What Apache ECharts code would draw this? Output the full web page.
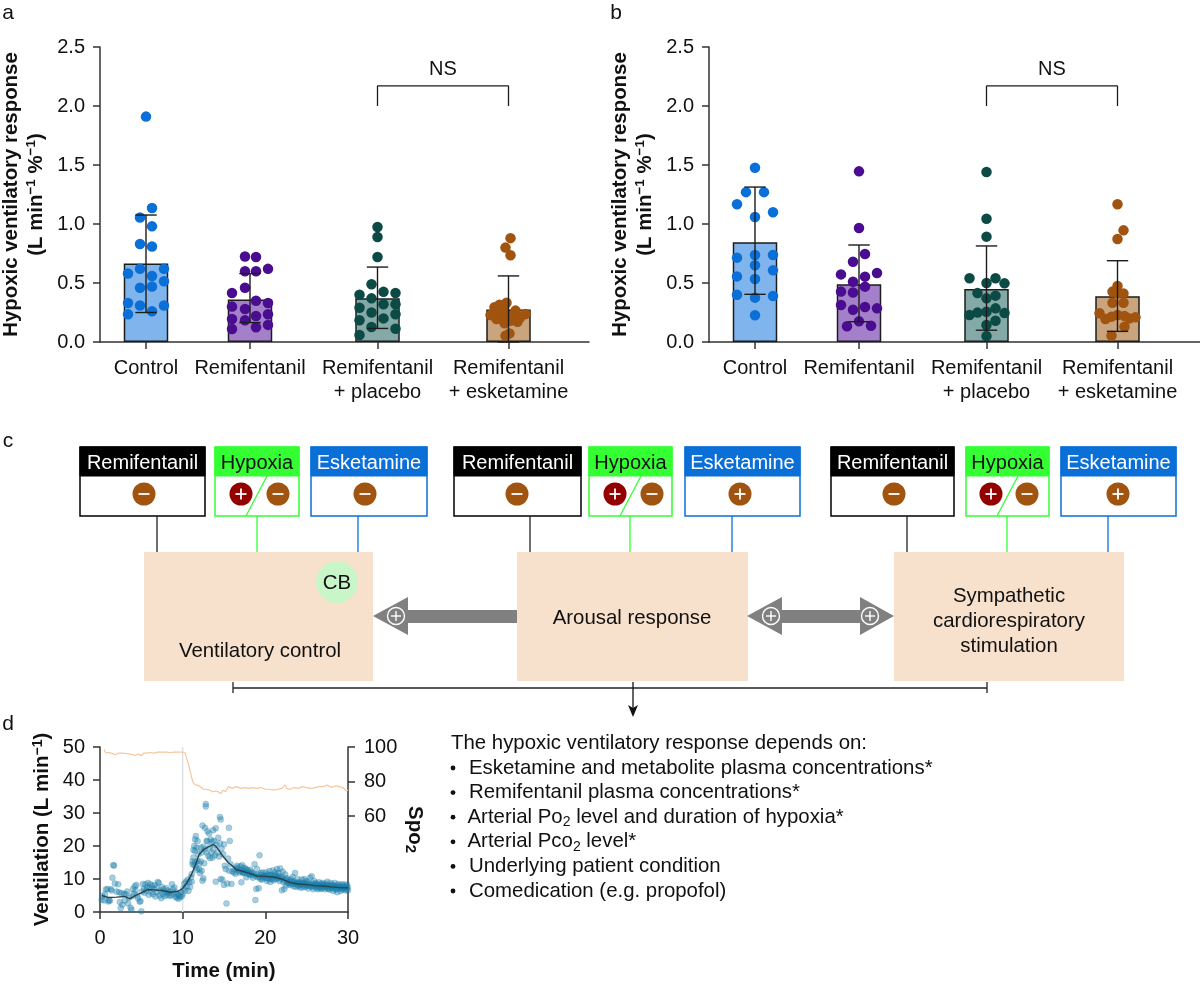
<!DOCTYPE html>
<html><head><meta charset="utf-8">
<style>html,body{margin:0;padding:0;background:#fff}#c{width:1200px;height:984px}</style>
<script src="https://cdn.jsdelivr.net/npm/echarts@6/dist/echarts.min.js"></script>
</head><body><div id="c"></div>
<script>
const FONT = '"Liberation Sans", Arial, sans-serif';
const categories = ['Control', 'Remifentanil', 'Remifentanil\n+ placebo', 'Remifentanil\n+ esketamine'];
const categoryPositions = [46, 150, 277.5, 408.5];
const dotColors = ['#0b6fd8', '#4a0d8f', '#0c4a45', '#a0540f'];
const barColors = ['#7fb5ec', '#a47fca', '#85a9a6', '#c9a47c'];

const meansA = [0.665, 0.36, 0.37, 0.275];
const upperA = [1.076, 0.58, 0.635, 0.56];
const lowerA = [0.25, 0.165, 0.115, 0.0];
const meansB = [0.845, 0.49, 0.45, 0.387];
const upperB = [1.313, 0.822, 0.814, 0.689];
const lowerB = [0.404, 0.172, 0.10, 0.09];

// each point: [horizontal jitter in axis units, response]
const controlA = [[0,1.91],[6,1.135],[-6,1.055],[6,0.98],[-6,0.83],[6,0.81],[-6,0.62],[18,0.62],[-18,0.58],[6,0.56],[18,0.515],[6,0.47],[-6,0.46],[-18,0.33],[-6,0.31],[18,0.31],[6,0.26],[-18,0.235]];
const remiA = [[-5,0.725],[6,0.72],[-5,0.60],[6,0.60],[18,0.62],[-5,0.46],[-18,0.415],[6,0.35],[18,0.33],[-18,0.30],[-5,0.28],[18,0.235],[6,0.22],[-18,0.195],[-5,0.185],[18,0.145],[6,0.125],[-18,0.11]];
const placeboA = [[0,0.975],[0,0.89],[0,0.72],[-6,0.49],[6,0.425],[18,0.415],[-18,0.40],[-6,0.37],[6,0.32],[18,0.32],[-18,0.29],[-6,0.25],[18,0.235],[6,0.20],[-18,0.185],[-6,0.127],[18,0.113],[-18,0.06]];
const esketA = [[2,0.88],[-3,0.80],[2,0.735],[-2,0.333],[-9,0.316],[-14,0.294],[7,0.266],[-5,0.266],[-11,0.254],[-18,0.229],[17,0.237],[0,0.22],[-12,0.195],[-5,0.195],[5,0.215],[12,0.21],[9,0.172],[-4,0.158],[2,0.18],[1,0.073],[-3,0.054]];
const controlB = [[0,1.477],[-9,1.27],[9,1.27],[-18,1.167],[18,1.10],[0,1.06],[0,0.737],[18,0.737],[-18,0.715],[0,0.65],[18,0.607],[-18,0.556],[0,0.534],[-18,0.40],[18,0.39],[0,0.376],[0,0.226]];
const remiB = [[0,1.446],[0,0.966],[6,0.746],[-6,0.68],[18,0.585],[-18,0.573],[6,0.554],[-6,0.511],[6,0.469],[-18,0.427],[-6,0.42],[-18,0.313],[6,0.297],[18,0.285],[-6,0.274],[0,0.175],[-12,0.133],[12,0.138]];
const placeboB = [[0,1.44],[0,1.045],[0,0.893],[-17,0.54],[9,0.54],[0,0.5],[18,0.497],[-9,0.415],[9,0.393],[0,0.37],[9,0.285],[0,0.257],[-9,0.249],[18,0.246],[-17,0.229],[9,0.18],[0,0.144],[0,0.05]];
const esketB = [[0,1.167],[6,0.946],[0,0.873],[0,0.475],[-5,0.427],[6,0.412],[0,0.412],[-5,0.333],[6,0.333],[-18,0.243],[0,0.229],[-6,0.215],[7,0.22],[-12,0.195],[18,0.209],[12,0.2],[7,0.13],[-6,0.054]];

// panel d
const ventilationPoints = [[0.2,3.7],[0.3,4.8],[0.5,3.5],[0.6,5.4],[0.7,6.8],[0.9,7.0],[1.0,3.2],[1.1,3.6],[1.2,3.4],[1.3,6.9],[1.4,6.5],[1.5,10.4],[1.6,14.2],[1.7,14.1],[1.8,8.6],[2.0,6.2],[2.2,8.4],[2.3,6.0],[2.4,3.0],[2.5,1.2],[2.6,5.7],[2.7,2.2],[2.9,5.5],[3.0,3.5],[3.1,5.4],[3.3,6.2],[3.4,2.6],[3.5,4.3],[3.7,1.3],[3.8,0.7],[3.9,4.8],[4.0,7.0],[4.1,5.5],[4.2,7.8],[4.3,6.6],[4.4,8.2],[4.5,5.0],[4.6,4.2],[4.8,3.1],[4.9,3.3],[5.0,0.2],[5.1,6.2],[5.2,8.5],[5.3,7.0],[5.4,5.8],[5.5,8.3],[5.6,6.5],[5.7,7.5],[5.8,8.8],[5.9,5.2],[6.0,7.2],[6.1,8.4],[6.2,6.0],[6.3,7.9],[6.4,5.4],[6.5,7.0],[6.6,8.2],[6.7,4.7],[6.8,7.3],[6.9,6.0],[7.0,9.1],[7.1,8.8],[7.2,5.0],[7.3,6.5],[7.4,4.2],[7.5,7.6],[7.6,5.5],[7.7,6.9],[7.8,4.8],[7.9,6.0],[8.0,7.2],[8.1,5.2],[8.2,6.5],[8.3,5.8],[8.4,4.9],[8.5,6.2],[8.6,5.0],[8.7,8.4],[8.8,6.9],[8.9,5.5],[9.0,7.4],[9.1,4.6],[9.2,6.0],[9.3,4.3],[9.4,5.2],[9.5,4.0],[9.6,5.0],[9.7,4.5],[9.8,6.0],[9.9,4.8],[10,5.5],
[10.1,7.2],[10.2,8.6],[10.3,6.5],[10.4,9.2],[10.5,7.8],[10.6,9.8],[10.7,6.4],[10.8,9.0],[10.9,7.6],[11.0,10.5],[11.1,9.2],[11.1,11.5],[11.2,14.5],[11.2,15.3],[11.3,18.8],[11.3,16.5],[11.4,20.0],[11.4,14.2],[11.5,22.0],[11.5,18.5],[11.5,15.0],[11.6,23.0],[11.6,13.5],[11.7,19.5],[11.7,12.8],[11.8,21.5],[11.8,15.5],[11.9,17.5],[12.0,13.0],[12.0,14.7],[12.1,11.8],[12.2,19.5],[12.2,15.3],[12.3,18.0],[12.3,12.5],[12.4,26.2],[12.4,9.5],[12.5,19.8],[12.5,10.2],[12.6,14.8],[12.7,25.5],[12.7,19.0],[12.8,32.7],[12.8,32.0],[12.9,21.5],[12.9,18.0],[13.0,24.5],[13.0,21.5],[13.1,17.0],[13.2,23.8],[13.3,19.8],[13.3,16.3],[13.4,22.0],[13.5,18.0],[13.6,21.3],[13.6,16.5],[13.7,24.8],[13.7,19.0],[13.8,21.5],[13.9,17.2],[14.0,25.4],[14.0,9.2],[14.1,20.3],[14.2,18.0],[14.3,22.5],[14.4,16.8],[14.5,20.8],[14.5,28.8],[14.6,28.0],[14.6,10.0],[14.7,19.2],[14.8,9.8],[14.9,17.5],[15.0,20.5],[15.0,8.2],[15.1,14.0],[15.2,13.0],[15.3,2.6],[15.4,8.6],[15.5,16.2],[15.6,25.5],[15.6,12.5],[15.7,21.5],[15.8,14.5],[15.9,8.5],[16.0,12.3],[16.2,12.0],[16.4,11.6],[16.5,13.5],[16.6,14.0],[16.8,12.4],[16.9,12.0],
[17.0,13.8],[17.1,9.0],[17.2,14.2],[17.3,11.8],[17.4,13.4],[17.5,12.2],[17.6,13.2],[17.7,10.5],[17.8,12.8],[18.0,12.0],[18.1,11.2],[18.2,12.8],[18.4,11.8],[18.5,10.4],[18.7,14.5],[18.8,3.6],[18.9,7.0],[19.0,13.0],[19.1,10.5],[19.2,7.2],[19.3,17.2],[19.4,10.0],[19.5,11.8],[19.6,9.8],[19.7,12.0],[19.8,11.0],[20.0,10.3],[20.1,12.0],[20.2,9.4],[20.3,11.4],[20.4,10.0],[20.5,12.4],[20.6,9.1],[20.7,11.2],[20.8,10.2],[20.9,12.6],[21.0,9.6],[21.1,11.0],[21.2,12.0],[21.3,10.0],[21.4,13.0],[21.5,10.5],[21.6,11.8],[21.7,9.4],[21.8,13.2],[21.9,10.6],[22.0,6.6],[22.1,12.2],[22.2,9.0],[22.3,7.0],[22.4,11.4],[22.5,8.0],[22.6,10.2],[22.7,8.8],[22.8,9.6],[23.0,8.2],[23.1,9.9],[23.2,8.5],[23.3,10.6],[23.4,7.8],[23.5,9.2],[23.6,11.8],[23.7,7.6],[23.8,8.9],[23.9,10.0],[24.0,7.9],[24.1,9.0],[24.2,7.4],[24.3,8.4],[24.4,9.8],[24.5,7.4],[24.6,8.8],[24.7,10.0],[24.8,7.6],[24.9,9.4],[25.0,8.0],[25.1,9.2],[25.2,7.1],[25.3,8.4],[25.4,10.4],[25.5,7.8],[25.6,10.8],[25.7,8.6],[25.8,6.9],[25.9,9.4],[26.0,7.8],[26.1,8.8],[26.2,7.2],[26.3,8.2],[26.4,6.9],[26.5,9.0],[26.6,7.6],[26.7,8.5],[26.8,7.0],[26.9,8.8],[27.0,7.4],[27.1,8.2],[27.2,6.9],[27.3,8.6],[27.4,7.6],[27.5,9.2],[27.6,7.0],[27.7,8.1],[27.8,6.8],[27.9,8.8],[28.0,7.4],[28.1,8.3],[28.2,6.4],[28.3,7.9],[28.4,8.8],[28.5,6.8],[28.6,8.0],[28.7,6.0],[28.8,8.4],[28.9,7.2],[29.0,8.2],[29.1,6.4],[29.2,7.6],[29.3,8.4],[29.4,6.8],[29.5,7.8],[29.6,8.3],[29.7,6.5],[29.8,7.4],[29.9,8.2],[30.0,6.6]];
const ventilationBand = [[16.3,12.9],[16.7,13.2],[17.05,12.6],[17.25,12.1],[17.45,11.9],[17.65,12.7],[17.85,11.6],[18.05,11.5],[18.25,12.2],[18.45,11.1],[18.65,11.5],[18.85,11.0],[19.05,11.4],[19.25,10.6],[19.45,11.3],[19.65,10.4],[19.85,10.8],[20.05,11.0],[20.25,10.2],[20.45,11.1],[20.65,10.7],[20.85,10.0],[21.05,10.9],[21.25,11.2],[21.45,10.2],[21.65,10.8],[21.85,10.0],[22.05,10.4],[22.25,9.6],[22.45,9.9],[22.65,9.2],[22.85,8.7],[23.05,9.0],[23.25,9.4],[23.45,8.6],[23.65,8.7],[23.85,8.3],[24.05,8.8],[24.25,8.2],[24.45,8.6],[24.65,8.0],[24.85,8.4],[25.05,8.6],[25.25,7.9],[25.45,8.3],[25.65,7.6],[25.85,8.1],[26.05,8.4],[26.25,7.7],[26.45,8.0],[26.65,7.3],[26.85,7.9],[27.05,8.3],[27.25,7.6],[27.45,8.0],[27.65,7.2],[27.85,7.7],[28.05,7.9],[28.25,7.2],[28.45,7.6],[28.65,7.0],[28.85,7.6],[29.05,7.5],[29.25,7.0],[29.45,7.3],[29.65,7.6],[29.85,6.9],[29.95,7.5]];
const ventilationMean = [[0.2,5],[1,4.4],[2,4.5],[3,4.7],[3.6,4.0],[4.2,4.9],[5,5.8],[5.8,6.8],[6.5,6.7],[7.5,6.5],[8.5,6.0],[9.5,6.3],[10,7.2],[10.5,8.8],[11,11],[11.5,14],[12,17.5],[12.5,18.8],[13,19.6],[13.7,20.4],[14,20],[14.5,18.3],[15,16.5],[15.5,15],[16,14],[16.5,12.8],[17,12.5],[18,11.8],[19,10.9],[20,10.8],[21,10.6],[22,10],[23,8.9],[24,8.5],[25,8.3],[26,8.0],[27,7.9],[28,7.6],[29,7.4],[30,7.3]];
const spo2Line = [[0.5,98.5],[0.7,96.5],[1,96.8],[1.3,96.5],[1.6,96],[1.9,95.5],[2.2,96.5],[2.5,96.5],[3,96.3],[3.5,96],[4,95.5],[4.3,95],[4.6,96],[5,95],[5.3,96.5],[5.6,96.5],[6,96.8],[6.5,96.5],[7,97],[7.5,97],[8,97],[8.5,96.8],[9,97],[9.5,97],[10,97],[10.3,96.5],[10.5,93],[10.7,90],[10.9,86],[11.1,82],[11.3,79],[11.6,78],[12,77.5],[12.2,77],[12.5,75.5],[12.8,75.5],[13,74.5],[13.3,75],[13.6,74],[14,74.5],[14.3,74],[14.6,73],[14.9,75],[15.2,74],[15.5,77],[16,76],[16.5,77],[17,76],[17.5,76.5],[18,76],[18.5,76.5],[19,76],[19.5,76.5],[20,75.5],[20.5,75.5],[21,75],[21.5,75.5],[22,76],[22.4,78],[22.6,76],[23,75.5],[23.5,76.5],[24,76],[24.5,77],[25,76.5],[25.5,76],[26,76.5],[26.5,77],[27,77],[27.5,78],[28,76.5],[28.5,77.5],[29,77],[29.5,76],[29.8,74.5],[30,75]];
const hypoxiaStart = [[10,0],[10,50]];

// panel c texts
const causeLabels = ['Remifentanil', 'Hypoxia', 'Esketamine'];
const effectLabels = [['Ventilatory control'], ['Arousal response'], ['Sympathetic', 'cardiorespiratory', 'stimulation']];
const summaryTitle = 'The hypoxic ventilatory response depends on:';
const summaryItems = [
  'Esketamine and metabolite plasma concentrations*',
  'Remifentanil plasma concentrations*',
  'Arterial Po{sub|2} level and duration of hypoxia*',
  'Arterial Pco{sub|2} level*',
  'Underlying patient condition',
  'Comedication (e.g. propofol)'
];

const axisLine = {show: true, lineStyle: {color: '#333', width: 1.5}};
const axisTick = {show: true, length: 7, lineStyle: {color: '#333', width: 1.5}};

function xAxisFor(gridIndex, maxX) {
  return {
    type: 'value', gridIndex, min: 0, max: maxX, splitLine: {show: false},
    axisLine: Object.assign({onZero: false}, axisLine),
    axisTick: Object.assign({customValues: categoryPositions}, axisTick),
    axisLabel: {
      customValues: categoryPositions, margin: 14, hideOverlap: false,
      fontFamily: FONT, fontSize: 20, color: '#111', lineHeight: 24.5,
      formatter: v => categories[categoryPositions.indexOf(v)] || ''
    }
  };
}
function yAxisFor(gridIndex) {
  const s = {fontFamily: FONT, fontWeight: 'bold', color: '#111'};
  return {
    type: 'value', gridIndex, min: 0, max: 2.5, interval: 0.5, splitLine: {show: false},
    axisLine, axisTick,
    axisLabel: {fontFamily: FONT, fontSize: 20, color: '#111', margin: 15, formatter: v => v.toFixed(1)},
    name: '{t|Hypoxic ventilatory response}\n{u|(L min}{s|\u22121}{u| %}{s|\u22121}{u|)}',
    nameLocation: 'middle', nameRotate: 90, nameGap: 51,
    nameTextStyle: {
      lineHeight: 25,
      rich: {
        t: Object.assign({fontSize: 20.4, lineHeight: 25}, s),
        u: Object.assign({fontSize: 20.4, lineHeight: 25}, s),
        s: Object.assign({fontSize: 13.5, lineHeight: 25, verticalAlign: 'top'}, s)
      }
    }
  };
}

function panelSeries(idx, means, upper, lower, groups) {
  const out = [];
  out.push({
    type: 'bar', xAxisIndex: idx, yAxisIndex: idx, barWidth: 44.5, z: 2, silent: true,
    data: means.map((m, i) => ({value: [categoryPositions[i], m], itemStyle: {color: barColors[i], borderColor: '#1c1c1c', borderWidth: 1.5}}))
  });
  groups.forEach((g, i) => out.push({
    type: 'scatter', xAxisIndex: idx, yAxisIndex: idx, symbolSize: 10.5, z: 3, silent: true,
    itemStyle: {color: dotColors[i], opacity: 1},
    data: g.map(p => [categoryPositions[i] + p[0], p[1]])
  }));
  out.push({
    type: 'custom', xAxisIndex: idx, yAxisIndex: idx, z: 4, silent: true,
    encode: {x: 0, y: [1, 2]},
    data: means.map((m, i) => [categoryPositions[i], upper[i], lower[i]]),
    renderItem(params, api) {
      const hi = api.coord([api.value(0), api.value(1)]);
      const lo = api.coord([api.value(0), api.value(2)]);
      const st = {stroke: '#1c1c1c', lineWidth: 1.4, fill: null};
      const cap = 10.7;
      return {type: 'group', children: [
        {type: 'line', shape: {x1: hi[0], y1: hi[1], x2: lo[0], y2: lo[1]}, style: st},
        {type: 'line', shape: {x1: hi[0] - cap, y1: hi[1], x2: hi[0] + cap, y2: hi[1]}, style: st},
        {type: 'line', shape: {x1: lo[0] - cap, y1: lo[1], x2: lo[0] + cap, y2: lo[1]}, style: st}
      ]};
    }
  });
  out.push({
    type: 'line', xAxisIndex: idx, yAxisIndex: idx, z: 4, silent: true, symbol: 'none',
    lineStyle: {color: '#1c1c1c', width: 1.3},
    data: [[categoryPositions[2], 2.0], [categoryPositions[2], 2.17], [categoryPositions[3], 2.17], [categoryPositions[3], 2.0]]
  });
  return out;
}

/* schematic (panel c) + text */
const graphics = [];
function txt(x, y, text, size, opts) {
  const o = opts || {};
  graphics.push({type: 'text', x, y, z: 30, style: Object.assign({
    text, fill: o.fill || '#111',
    font: (o.weight ? o.weight + ' ' : '') + size + 'px ' + FONT,
    fontFamily: FONT, fontSize: size, fontWeight: o.weight || 'normal',
    align: o.align || 'center', verticalAlign: 'middle',
    textAlign: o.align || 'center', textVerticalAlign: 'middle',
    rich: o.rich
  })});
}
function rect(x, y, w, h, fill, stroke, lw) {
  graphics.push({type: 'rect', z: 10, shape: {x, y, width: w, height: h}, style: {fill: fill || 'none', stroke: stroke || null, lineWidth: lw || 0}});
}
function seg(x1, y1, x2, y2, color, lw) {
  graphics.push({type: 'line', z: 11, shape: {x1, y1, x2, y2}, style: {stroke: color, lineWidth: lw || 1.3}});
}
function sign(cx, cy, plus) {
  const col = plus === 'red' ? '#930000' : '#a0540f';
  graphics.push({type: 'circle', z: 12, shape: {cx, cy, r: 11.5}, style: {fill: col}});
  seg2(cx - 5.5, cy, cx + 5.5, cy);
  if (plus) seg2(cx, cy - 5.5, cx, cy + 5.5);
}
function seg2(x1, y1, x2, y2) {
  graphics.push({type: 'line', z: 13, shape: {x1, y1, x2, y2}, style: {stroke: '#fff', lineWidth: 1.8}});
}
const BLACK = '#000000', GREEN = '#33ff33', BLUE = '#0b6fd8';
function causeBox(x, w, head, label, textCol) {
  rect(x, 447, w, 69, '#fff', head, 1.5);
  rect(x, 447, w, 29, head, head, 1);
  txt(x + w / 2, 463, label, 20, {fill: textCol});
}
function causes(xR, wR, xH, wH, xE, wE, signR, signHp, signHm, signE, plusE, cR, cH, cE) {
  seg(cR, 516, cR, 552, '#222', 1.3);
  seg(cH, 516, cH, 552, GREEN, 1.3);
  seg(cE, 516, cE, 552, BLUE, 1.3);
  causeBox(xR, wR, BLACK, causeLabels[0], '#fff');
  causeBox(xH, wH, GREEN, causeLabels[1], '#111');
  causeBox(xE, wE, BLUE, causeLabels[2], '#fff');
  sign(signR, 494, false);
  seg(xH + 52, 476, xH + 31, 516, GREEN, 1.3);
  sign(signHp, 494, 'red');
  sign(signHm, 494, false);
  sign(signE, 494, plusE);
}
rect(144, 552, 229, 129, '#f7e0cc');
rect(517, 552, 231, 129, '#f7e0cc');
rect(894, 552, 230, 129, '#f7e0cc');
causes(80, 125, 215, 84, 311, 116, 144, 241, 278, 365, false, 157, 257, 358);
causes(454, 127, 589, 83, 685, 115, 517, 615, 652, 740, true, 530, 630, 732);
causes(831, 123, 966, 83, 1061, 115, 894, 991, 1027, 1118, true, 907, 1007, 1108);
graphics.push({type: 'circle', z: 12, shape: {cx: 337, cy: 582, r: 21}, style: {fill: '#c9f6c9'}});
txt(337, 583, 'CB', 20.4);
txt(260, 651, effectLabels[0][0], 20.4);
txt(632, 618, effectLabels[1][0], 20.4);
effectLabels[2].forEach((s, i) => txt(1009, 596 + i * 25, s, 20.4));
function poly(points, fill) { graphics.push({type: 'polygon', z: 12, shape: {points}, style: {fill}}); }
const G = '#808080';
poly([[373, 616], [408, 597], [408, 610], [517, 610], [517, 623], [408, 623], [408, 635]], G);
poly([[747, 616], [782, 597], [782, 610], [860, 610], [860, 597], [894, 616], [860, 635], [860, 623], [782, 623], [782, 635]], G);
function plusCircle(cx, cy) {
  graphics.push({type: 'circle', z: 13, shape: {cx, cy, r: 8.5}, style: {fill: G, stroke: '#fff', lineWidth: 1.4}});
  graphics.push({type: 'line', z: 14, shape: {x1: cx - 5, y1: cy, x2: cx + 5, y2: cy}, style: {stroke: '#fff', lineWidth: 1.4}});
  graphics.push({type: 'line', z: 14, shape: {x1: cx, y1: cy - 5, x2: cx, y2: cy + 5}, style: {stroke: '#fff', lineWidth: 1.4}});
}
plusCircle(396, 616); plusCircle(771, 616); plusCircle(870, 616);
seg(233, 688, 987, 688, '#222', 1.3);
seg(233, 682, 233, 693, '#222', 1.3);
seg(987, 682, 987, 693, '#222', 1.3);
seg(633, 682, 633, 708, '#111', 1.3);
poly([[633, 717], [628, 705], [633, 708], [638, 705]], '#111');
txt(8, 13, 'a', 21); txt(616, 13, 'b', 21); txt(8, 441, 'c', 21); txt(8, 724, 'd', 21);
txt(443, 69, 'NS', 20);
txt(1052, 69, 'NS', 20);
txt(451, 743, summaryTitle, 20.4, {align: 'left'});
const sumRich = {sub: {fontFamily: FONT, fontSize: 14, fill: '#111', color: '#111', verticalAlign: 'bottom', lineHeight: 24}};
summaryItems.forEach((s, i) => {
  const y = 768 + i * 24.6;
  graphics.push({type: 'circle', z: 30, shape: {cx: 453, cy: y, r: 2.4}, style: {fill: '#111'}});
  const useSub = s.indexOf('{sub|') >= 0;
  txt(useSub ? 467.5 : 469, y, s, 20.4, {align: 'left', rich: sumRich});
});

const chart = echarts.init(document.getElementById('c'), null, {renderer: 'canvas'});
const dotStyle = {color: 'rgba(25,125,170,0.48)', borderColor: 'rgba(25,125,170,0.55)', borderWidth: 0.5};
chart.setOption({
  animation: false,
  backgroundColor: '#fff',
  textStyle: {fontFamily: FONT},
  grid: [
    {left: 100, top: 47, width: 489, height: 295, containLabel: false, outerBoundsMode: 'none'},
    {left: 709, top: 47, width: 491, height: 295, containLabel: false, outerBoundsMode: 'none'},
    {left: 100, top: 747, width: 248, height: 165, containLabel: false, outerBoundsMode: 'none'}
  ],
  xAxis: [
    xAxisFor(0, 489),
    xAxisFor(1, 491),
    {type: 'value', gridIndex: 2, min: 0, max: 30, interval: 10, splitLine: {show: false},
     axisLine: Object.assign({onZero: false}, axisLine), axisTick,
     axisLabel: {fontFamily: FONT, fontSize: 20, color: '#111', margin: 16, hideOverlap: false},
     name: 'Time (min)', nameLocation: 'middle', nameGap: 49,
     nameTextStyle: {fontFamily: FONT, fontWeight: 'bold', fontSize: 20.5, color: '#111'}}
  ],
  yAxis: [
    yAxisFor(0),
    yAxisFor(1),
    {type: 'value', gridIndex: 2, min: 0, max: 50, interval: 10, splitLine: {show: false},
     axisLine, axisTick,
     axisLabel: {fontFamily: FONT, fontSize: 20, color: '#111', margin: 15},
     name: '{b|Ventilation (L min}{s|\u22121}{b|)}', nameLocation: 'middle', nameRotate: 90, nameGap: 46,
     nameTextStyle: {rich: {
       b: {fontFamily: FONT, fontWeight: 'bold', fontSize: 20.5, color: '#111', lineHeight: 23},
       s: {fontFamily: FONT, fontWeight: 'bold', fontSize: 14, color: '#111', lineHeight: 23, verticalAlign: 'top'}
     }}},
    {type: 'value', gridIndex: 2, position: 'right', min: 4.35, max: 100, splitLine: {show: false},
     axisLine: Object.assign({onZero: false}, axisLine),
     axisTick: Object.assign({customValues: [60, 80, 100]}, axisTick),
     axisLabel: {customValues: [60, 80, 100], fontFamily: FONT, fontSize: 20, color: '#111', margin: 16},
     name: '{b|Spo}{s|2}', nameLocation: 'middle', nameRotate: -90, nameGap: 55,
     nameTextStyle: {rich: {
       b: {fontFamily: FONT, fontWeight: 'bold', fontSize: 20.5, color: '#111', lineHeight: 23},
       s: {fontFamily: FONT, fontWeight: 'bold', fontSize: 15, color: '#111', lineHeight: 23, verticalAlign: 'bottom'}
     }}}
  ],
  series: [
    ...panelSeries(0, meansA, upperA, lowerA, [controlA, remiA, placeboA, esketA]),
    ...panelSeries(1, meansB, upperB, lowerB, [controlB, remiB, placeboB, esketB]),
    {type: 'line', xAxisIndex: 2, yAxisIndex: 2, symbol: 'none', silent: true, z: 1,
     lineStyle: {color: '#dfe2e4', width: 1.5}, data: hypoxiaStart},
    {type: 'line', xAxisIndex: 2, yAxisIndex: 3, symbol: 'none', silent: true, z: 2,
     lineStyle: {color: '#f5c79a', width: 1.2}, data: spo2Line},
    {type: 'scatter', xAxisIndex: 2, yAxisIndex: 2, symbolSize: 6, silent: true, z: 3,
     itemStyle: dotStyle, data: ventilationPoints},
    {type: 'scatter', xAxisIndex: 2, yAxisIndex: 2, symbolSize: 6, silent: true, z: 3,
     itemStyle: dotStyle, data: ventilationBand},
    {type: 'line', xAxisIndex: 2, yAxisIndex: 2, symbol: 'none', silent: true, z: 4,
     lineStyle: {color: '#25434f', width: 1.4}, data: ventilationMean}
  ],
  graphic: {elements: graphics}
});
</script></body></html>
